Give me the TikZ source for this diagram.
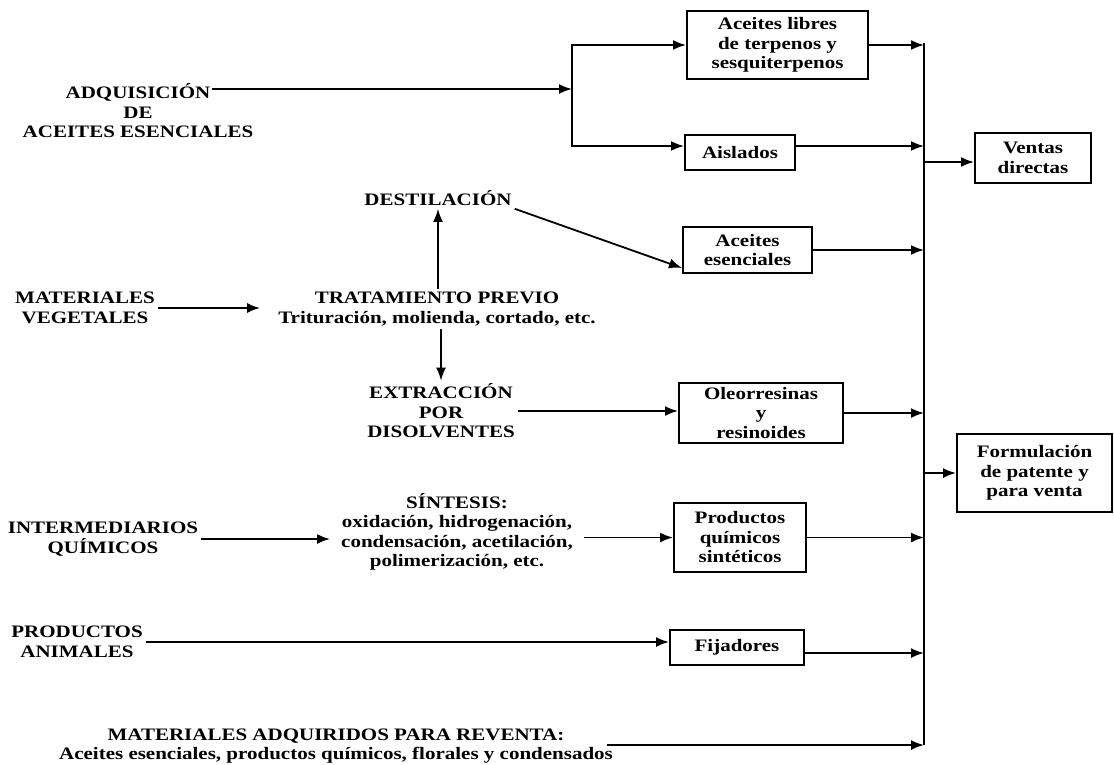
\documentclass[tikz,border=0pt]{standalone}
\usepackage{fontspec}
\setmainfont{Liberation Serif}[FakeStretch=1.2]
\usetikzlibrary{arrows.meta}
\begin{document}
\begin{tikzpicture}[x=1pt,y=-1pt,
        every node/.style={font=\bfseries\fontsize{17.5}{19.5}\selectfont,align=center,inner sep=3pt},
        box/.style={draw,line width=2pt,inner sep=0pt},
        ln/.style={line width=2.2pt},
        arr/.style={line width=1.8pt,-{Latex[length=13pt,width=10pt]}}]
        \useasboundingbox (0,0) rectangle (1114,765);
        \node (adq) at (138,111) {ADQUISICIÓN\\DE\\ACEITES ESENCIALES};
        \node (dest) at (438,198) {DESTILACIÓN};
        \node (matveg) at (85,308) {MATERIALES\\VEGETALES};
        \node (trat) at (437,309) {TRATAMIENTO PREVIO\\Trituración, molienda, cortado, etc.};
        \node (extr) at (441,411) {EXTRACCIÓN\\POR\\DISOLVENTES};
        \node (interm) at (103,539) {INTERMEDIARIOS\\QUÍMICOS};
        \node (sint) at (457,532) {SÍNTESIS:\\oxidación, hidrogenación,\\condensación, acetilación,\\polimerización, etc.};
        \node (prodan) at (77,642) {PRODUCTOS\\ANIMALES};
        \node (reventa) at (336,746) {MATERIALES ADQUIRIDOS PARA REVENTA:\\Aceites esenciales, productos químicos, florales y condensados};
        \node[box,minimum width=181pt,minimum height=68pt] (libres) at (777.5,45) {Aceites libres\\de terpenos y\\sesquiterpenos};
        \node[box,minimum width=110pt,minimum height=35pt] (aislados) at (740,152.5) {Aislados};
        \node[box,minimum width=129pt,minimum height=46pt] (acesen) at (747.5,250) {Aceites\\esenciales};
        \node[box,minimum width=164pt,minimum height=60pt] (oleo) at (761,413) {Oleorresinas\\y\\resinoides};
        \node[box,minimum width=132pt,minimum height=69pt] (prodq) at (740,537.5) {Productos\\químicos\\sintéticos};
        \node[box,minimum width=134pt,minimum height=35pt] (fij) at (737,647.5) {Fijadores};
        \node[box,minimum width=116pt,minimum height=49pt] (ventas) at (1033,158) {Ventas\\directas};
        \node[box,minimum width=155pt,minimum height=78pt] (formul) at (1034.5,473) {Formulación\\de patente y\\para venta};
        \coordinate (adqout) at (212,89);
        \coordinate (jn) at (572,89);
        \coordinate (bustop) at (924,43);
        \coordinate (busbot) at (924,745);
        \coordinate (revout) at (607,745);
        \draw[arr] (adqout) -- (jn);
        \draw[arr] (jn) |- (libres.west);
        \draw[arr] (jn) |- ([yshift=6.5pt]aislados.west);
        \draw[ln] (bustop) -- (busbot);
        \draw[arr] (libres.east) -- (libres.east -| bustop);
        \draw[arr] ([yshift=6.5pt]aislados.east) -- ([yshift=6.5pt]aislados.east -| bustop);
        \draw[arr] (acesen.east) -- (acesen.east -| bustop);
        \draw[arr] (oleo.east) -- (oleo.east -| bustop);
        \draw[arr] (prodq.east) -- (prodq.east -| bustop);
        \draw[arr] ([yshift=-5.5pt]fij.east) -- ([yshift=-5.5pt]fij.east -| bustop);
        \draw[arr] (revout) -- (busbot);
        \draw[arr] ([yshift=-4pt]bustop |- ventas.west) -- ([yshift=-4pt]ventas.west);
        \draw[arr] (bustop |- formul.west) -- (formul.west);
        \draw[arr] (dest.south east) -- ([yshift=6pt]acesen.south west);
        \draw[arr] (trat.north -| dest.south) -- (dest.south);
        \draw[arr] (trat.south -| extr.north) -- (extr.north);
        \draw[arr,shorten >=15pt] (matveg.east) -- (matveg.east -| trat.west);
        \draw[arr] (extr.east) -- (extr.east -| oleo.west);
        \draw[arr,shorten >=8pt] (interm.east) -- (interm.east -| sint.west);
        \draw[arr,shorten <=8pt] (sint.east |- prodq.west) -- (prodq.west);
        \draw[arr] (prodan.east) -- (prodan.east -| fij.west);
\end{tikzpicture}
\end{document}
